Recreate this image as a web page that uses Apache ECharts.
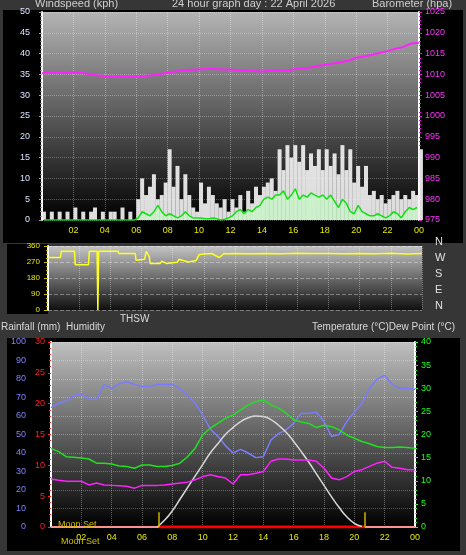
<!DOCTYPE html>
<html><head><meta charset="utf-8">
<script src="https://cdn.jsdelivr.net/npm/echarts@6/dist/echarts.min.js"></script>
<style>html,body{margin:0;padding:0;background:#363636}#c{width:466px;height:555px}</style>
</head><body><div id="c"></div>
<script>
// wind gusts, kph, every 15 minutes from 00:00
var windGust = [2,0,2,0, 2,0,2,0, 3,0,2,0, 2,3,0,2, 0,2,2,0, 3,0,2,0,
  5,10,6,8, 11,5,6,9, 17,8,13,5, 11,6,3,2, 9,4,8,6, 4,3,5,2, 5,3,6,2, 7,4,8,6,
  8,9,10,7, 17,12,18,15, 18,14,18,12, 16,13,17,12, 17,13,16,11, 18,12,17,9,
  13,8,13,6, 7,5,6,4, 5,6,7,5, 6,5,7,6, 17,8,11,6];
// average wind speed, kph, every 15 minutes
var windAvg = [0,0,0,0, 0,0,0,0, 0,0,0,0, 0,0,0,0, 0,0,0,0, 0,0,0,0,
  0.5,2,1.5,1, 2,3.5,2,1, 1.5,1,0.5,1, 2,1,0.5,0.5, 0.5,0.3,0.3,0.5, 0.3,0,0.2,0.5,
  1,2,2.5,1.5, 2.5,2,3,3.5, 5,5.5,5,6, 6,7,5,6, 7.5,5,6,5.5, 6.5,6,5.5,6,
  5,6,4.5,3, 5,4,2,1.5, 3.5,2,1.5,1, 1,1.5,1,0.5, 1,2,1.5,0.5, 2,3,2.5,3];
// barometer hPa, every 30 minutes
var baro = [1010.3,1010.5,1010.5,1010.3,1010.6,1010.4,1010.1,1009.8,1009.6,1009.6,1009.5,1009.5,1009.5,
  1009.6,1009.8,1010.1,1010.4,1010.7,1011.0,1011.1,1011.2,1011.3,1011.3,1011.2,1011.2,1011.0,
  1010.9,1010.8,1010.7,1010.9,1010.9,1011.0,1011.2,1011.5,1011.6,1012.0,1012.3,1012.6,1012.9,
  1013.3,1014.0,1014.3,1014.7,1015.2,1015.6,1016.2,1016.6,1017.4,1017.6];
// wind direction: hours and degrees
var dirHours = [0,0.8,0.85,1.7,1.75,2.6,2.65,3.15,3.2,3.25,4.5,4.55,5.6,5.65,6.2,6.3,6.5,6.55,7.2,7.3,7.6,8.3,8.4,9.0,9.5,9.7,10,10.5,11,11.3,11.5,12,13,14,15,16,17,18,19,20,21,22,23,24];
var dirDeg = [295,295,330,330,255,255,330,330,0,330,330,318,318,280,285,330,300,262,262,275,262,268,285,270,278,312,315,318,295,318,316,318,316,318,317,319,318,318,317,318,316,319,315,318];
// humidity %, every 30 minutes
var humidity = [64.5,67,68,71,72,69,69,77,75,77.5,78.5,77,76,76,77,77,77,75,71,67,60.5,53,49,44,40,42,40,
  37.5,38,47,50.5,52.5,56,61.5,61.5,62,57,49,50,57,62,67,75,80,82,77,75,75,74.5];
// temperature °C, every 30 minutes
var temperature = [17,16.3,15.2,15.1,14.9,14.7,13.8,13.8,13.6,13.2,13.1,12.7,13.4,13.4,13.1,13.1,13.3,13.8,
  15.2,17,19.9,21.4,22.4,23.5,24.2,25.3,26.4,27.1,27.5,26.4,25.7,24.6,23.2,22.7,22.4,21.5,22,21.7,21,
  19.9,19.2,18.5,18,17.4,17.2,17.2,17.3,17.2,17];
// dew point °C, every 30 minutes
var dewPoint = [10.4,10.1,9.9,9.9,9.9,9.1,9.5,9.1,9,8.9,8.8,8.4,9,9,9,9.1,9.3,9.5,9.7,10.2,10.9,11.3,10.9,
  10.6,9.3,11.3,11.3,11.6,12,14.2,14.7,14.7,14.5,14.5,14.5,14.2,12.7,10.6,10.2,10.9,12,12.4,13.1,13.8,
  14.2,12.9,12.7,12.4,12.4];
// sun elevation curve, hours 7.0 .. 20.5 every 30 minutes
var sunCurve = [0,1.5,3.5,6,8.5,11,13.5,16,18,20,21.5,22.8,23.6,24,23.9,23.2,22,20.5,18.5,16.3,14,11.5,9,6.5,4.2,2.2,0.8,0.1];
var sunTimes = [7.1, 20.7];
var hourTicks = ['02','04','06','08','10','12','14','16','18','20','22','00'];
var compass = ['N','W','S','E','N'];

function pairs(arr, step, start) {
  return arr.map(function (v, i) { return [start + i * step, v]; });
}
var grad = function (a, b) {
  return new echarts.graphic.LinearGradient(0, 0, 0, 1, [{offset: 0, color: a}, {offset: 1, color: b}]);
};
var fnt = 'Liberation Sans';
var plain = function (v) { return String(v); };
function xAx(idx, show) {
  return {type: 'value', gridIndex: idx, min: 0, max: 24, interval: 2,
    axisLine: {show: false}, axisTick: {show: false},
    axisLabel: {show: show, color: '#e8e800', fontSize: 9, fontFamily: fnt, margin: 6,
      formatter: function (v) { return v === 0 ? '' : hourTicks[v / 2 - 1]; }},
    splitLine: {show: true, lineStyle: {color: 'rgba(255,255,255,0.35)', type: 'dotted'}}};
}
var chart = echarts.init(document.getElementById('c'));
var option = {
  backgroundColor: '#363636',
  animation: false,
  textStyle: {fontFamily: fnt},
  graphic: [
    {type: 'rect', shape: {x: 3, y: 10, width: 460, height: 233}, style: {fill: '#000'}, z: -10},
    {type: 'rect', shape: {x: 7, y: 244, width: 41, height: 70}, style: {fill: '#000'}, z: -10},
    {type: 'rect', shape: {x: 7, y: 338, width: 453, height: 213}, style: {fill: '#000'}, z: -10},
    {type: 'text', left: 35, top: -2, style: {text: 'Windspeed (kph)', fill: '#cfcfcf', font: '11px ' + fnt}},
    {type: 'text', left: 172, top: -2, style: {text: '24 hour graph day : 22 April 2026', fill: '#cfcfcf', font: '11px ' + fnt}},
    {type: 'text', left: 372, top: -2, style: {text: 'Barometer (hpa)', fill: '#cfcfcf', font: '11px ' + fnt}},
    {type: 'text', left: 1, top: 322, style: {text: 'Rainfall (mm)  Humidity', fill: '#d8d8d8', font: '10px ' + fnt}},
    {type: 'text', left: 120, top: 314, style: {text: 'THSW', fill: '#d8d8d8', font: '10px ' + fnt}},
    {type: 'text', left: 312, top: 322, style: {text: 'Temperature (°C)Dew Point (°C)', fill: '#d8d8d8', font: '10px ' + fnt}},
    {type: 'text', left: 58, top: 520, style: {text: 'Moon Set', fill: '#d0c000', font: '9px ' + fnt}, z: 20},
    {type: 'text', left: 61, top: 537, style: {text: 'Moon Set', fill: '#d0c000', font: '9px ' + fnt}, z: 20}
  ].concat(compass.map(function (c, i) {
    return {type: 'text', left: 435, top: 236 + i * 16, style: {text: c, fill: '#e0e0e0', font: '11px ' + fnt}};
  })),
  grid: [
    {left: 42, right: 47, top: 12, height: 208, show: true, backgroundColor: grad('#b4b4b4', '#000'), borderWidth: 0},
    {left: 48, right: 44, top: 246, height: 64, show: true, backgroundColor: grad('#c4c4c4', '#101010'), borderWidth: 0},
    {left: 51, right: 51, top: 342, height: 185, show: true, backgroundColor: grad('#c0c0c0', '#000'), borderWidth: 0}
  ],
  xAxis: [xAx(0, true), xAx(1, false), xAx(2, true)],
  yAxis: [
    {type: 'value', gridIndex: 0, min: 0, max: 50, interval: 5,
      axisLine: {show: true, lineStyle: {color: '#ffffff', width: 2}}, axisTick: {show: true, length: 3, lineStyle: {color: '#aaa'}},
      minorTick: {show: true, splitNumber: 5, length: 2, lineStyle: {color: '#888'}},
      axisLabel: {color: '#d8e4ff', fontSize: 9, margin: 12},
      splitLine: {lineStyle: {color: 'rgba(255,255,255,0.3)', type: 'dotted'}}},
    {type: 'value', gridIndex: 0, min: 975, max: 1025, interval: 5, position: 'right',
      axisLine: {show: true, lineStyle: {color: '#ffffff', width: 2}}, axisTick: {show: true, length: 3, lineStyle: {color: '#ff00ff'}},
      minorTick: {show: true, splitNumber: 5, length: 2, lineStyle: {color: '#ff00ff'}},
      axisLabel: {color: '#ff33ff', fontSize: 9, margin: 6, formatter: plain}, splitLine: {show: false}},
    {type: 'value', gridIndex: 1, min: 0, max: 360, interval: 90,
      axisLine: {show: true, lineStyle: {color: '#ffffff', width: 2}}, axisTick: {show: true, length: 4, lineStyle: {color: '#d0c000'}},
      minorTick: {show: true, splitNumber: 4, length: 2, lineStyle: {color: '#d0c000'}},
      axisLabel: {color: '#e8e800', fontSize: 8, margin: 8},
      splitLine: {lineStyle: {color: 'rgba(255,255,255,0.35)', type: 'dashed'}}},
    {type: 'value', gridIndex: 2, min: 0, max: 100, interval: 10, position: 'left', offset: 21,
      axisLine: {show: true, lineStyle: {color: '#7b7bff', width: 2}}, axisTick: {show: false},
      axisLabel: {color: '#8080ff', fontSize: 9, margin: 4},
      splitLine: {lineStyle: {color: 'rgba(255,255,255,0.3)', type: 'dotted'}}},
    {type: 'value', gridIndex: 2, min: 0, max: 30, interval: 5, position: 'left', offset: 0,
      axisLine: {show: true, lineStyle: {color: '#ffffff', width: 2}}, axisTick: {show: true, length: 3, lineStyle: {color: '#ff2020'}},
      minorTick: {show: true, splitNumber: 5, length: 2, lineStyle: {color: '#ff2020'}},
      axisLabel: {color: '#ff2020', fontSize: 9, margin: 6}, splitLine: {show: false}},
    {type: 'value', gridIndex: 2, min: 0, max: 40, interval: 5, position: 'right',
      axisLine: {show: true, lineStyle: {color: '#ffffff', width: 2}}, axisTick: {show: true, length: 3, lineStyle: {color: '#20ff20'}},
      minorTick: {show: true, splitNumber: 5, length: 2, lineStyle: {color: '#20ff20'}},
      axisLabel: {color: '#20ff20', fontSize: 9, margin: 6}, splitLine: {show: false}}
  ],
  series: [
    {name: 'Gust', type: 'bar', xAxisIndex: 0, yAxisIndex: 0, data: pairs(windGust, 0.25, 0.125),
      barWidth: 4, itemStyle: {color: 'rgba(245,245,245,0.9)'}},
    {name: 'Speed', type: 'line', xAxisIndex: 0, yAxisIndex: 0, data: pairs(windAvg, 0.25, 0.125),
      symbol: 'none', lineStyle: {color: '#10e010', width: 1.5}, areaStyle: {color: 'rgba(190,255,190,0.8)'}},
    {name: 'Barometer', type: 'line', xAxisIndex: 0, yAxisIndex: 1, data: pairs(baro, 0.5, 0),
      symbol: 'none', lineStyle: {color: '#ff22ff', width: 2}},
    {name: 'Direction', type: 'line', xAxisIndex: 1, yAxisIndex: 2,
      data: dirHours.map(function (h, i) { return [h, dirDeg[i]]; }),
      symbol: 'none', lineStyle: {color: '#ffff20', width: 1.5}},
    {name: 'Rain', type: 'line', xAxisIndex: 2, yAxisIndex: 4, data: [[0, 0], [24, 0]],
      symbol: 'none', lineStyle: {color: '#ff9090', width: 2}},
    {name: 'Daylight', type: 'line', xAxisIndex: 2, yAxisIndex: 4, data: [[sunTimes[0], 0], [sunTimes[1], 0]],
      symbol: 'none', lineStyle: {color: '#ff0000', width: 3}, z: 3},
    {name: 'Humidity', type: 'line', xAxisIndex: 2, yAxisIndex: 3, data: pairs(humidity, 0.5, 0),
      symbol: 'none', lineStyle: {color: '#7b7bff', width: 1.5}},
    {name: 'Sun', type: 'line', xAxisIndex: 2, yAxisIndex: 5, data: pairs(sunCurve, 0.5, 7.0), smooth: true,
      symbol: 'none', lineStyle: {color: '#d8d8d8', width: 1.5},
      markLine: {symbol: 'none', silent: true, label: {show: false}, lineStyle: {color: '#c8b400', width: 1.5, type: 'solid'},
        data: sunTimes.map(function (t) { return [{coord: [t, 0]}, {coord: [t, 3.2]}]; })}},
    {name: 'Temperature', type: 'line', xAxisIndex: 2, yAxisIndex: 5, data: pairs(temperature, 0.5, 0),
      symbol: 'none', lineStyle: {color: '#20e020', width: 1.5}},
    {name: 'Dew Point', type: 'line', xAxisIndex: 2, yAxisIndex: 5, data: pairs(dewPoint, 0.5, 0),
      symbol: 'none', lineStyle: {color: '#ff20ff', width: 1.5}}
  ]
};
option && chart.setOption(option);
</script></body></html>
